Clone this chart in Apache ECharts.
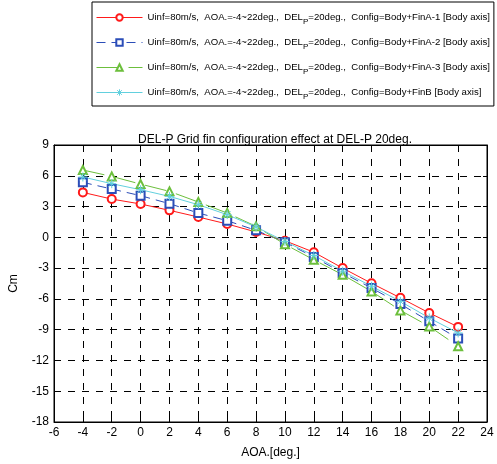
<!DOCTYPE html>
<html>
<head>
<meta charset="utf-8">
<script src="https://cdn.jsdelivr.net/npm/echarts@6/dist/echarts.min.js"></script>
<style>
html,body{margin:0;padding:0;background:#fff;}
#chart{width:497px;height:464px;}
</style>
</head>
<body>
<div id="chart"></div>
<script>
var aoa = [-4, -2, 0, 2, 4, 6, 8, 10, 12, 14, 16, 18, 20, 22];
var finA1 = [4.38, 3.73, 3.25, 2.63, 1.98, 1.30, 0.52, -0.33, -1.45, -3.00, -4.48, -5.90, -7.37, -8.73];
var finA2 = [5.36, 4.71, 4.06, 3.28, 2.37, 1.62, 0.68, -0.48, -1.92, -3.47, -4.94, -6.50, -8.19, -9.87];
var finA3 = [6.56, 5.94, 5.19, 4.48, 3.44, 2.37, 1.07, -0.68, -2.19, -3.65, -5.27, -7.12, -8.68, -10.62];
var finB  = [5.88, 5.23, 4.64, 3.99, 3.18, 2.21, 1.01, -0.40, -1.77, -3.30, -4.77, -6.24, -7.86, -9.32];
var configNames = ['Body+FinA-1', 'Body+FinA-2', 'Body+FinA-3', 'Body+FinB'];
var xTicks = {min: -6, max: 24, interval: 2};
var yTicks = {min: -18, max: 9, interval: 3};
var titleText = 'DEL-P Grid fin configuration effect at DEL-P 20deg.';

var font = 'Arial, "Liberation Sans", sans-serif';
var colors = ['#ff1a1a', '#2b4db8', '#6cbf3c', '#62d0de'];
var symbols = ['emptyCircle', 'emptyRect', 'emptyTriangle',
  'path://M0,-5L0,5M-5,0L5,0M-3.6,-3.6L3.6,3.6M-3.6,3.6L3.6,-3.6'];
var dashes = ['solid', [9, 6], [22, 10], 'solid'];
var seriesData = [finA1, finA2, finA3, finB];

function pairs(arr) { return aoa.map(function (x, i) { return [x, arr[i]]; }); }

var series = seriesData.map(function (d, i) {
  return {
    name: configNames[i],
    type: 'line',
    data: pairs(d),
    symbol: symbols[i],
    symbolSize: i === 3 ? 9 : 8,
    showSymbol: true,
    lineStyle: {color: colors[i], width: 1, type: dashes[i]},
    itemStyle: {color: i === 3 ? 'rgba(0,0,0,0)' : colors[i], borderColor: colors[i], borderWidth: 1},
    emphasis: {disabled: true},
    animation: false,
    z: 3
  };
});

var gridLine = {show: true, lineStyle: {color: '#000', type: [7, 7], width: 1}};

var option = {
  backgroundColor: '#fff',
  animation: false,
  title: {
    text: titleText, left: 270, top: 129, textAlign: 'center',
    textStyle: {fontFamily: font, fontSize: 12, fontWeight: 'normal', color: '#000'}
  },
  legend: {
    orient: 'vertical', left: 92, top: 2,
    padding: [7, 4, 5, 4], itemGap: 8, itemWidth: 46, itemHeight: 8,
    borderColor: '#000', borderWidth: 1,
    data: configNames,
    lineStyle: {width: 1},
    itemStyle: {borderWidth: 1},
    formatter: function (name) {
      return '{a|Uinf=80m/s,  AOA.=-4~22deg.,  DEL}{s|P}{a|=20deg.,  Config=' + name + ' [Body axis]}';
    },
    textStyle: {
      fontFamily: font, fontSize: 9.6, color: '#000',
      rich: {
        a: {fontFamily: font, fontSize: 9.6, color: '#000', lineHeight: 16},
        s: {fontFamily: font, fontSize: 8, color: '#000', padding: [9, 0, 0, 0], lineHeight: 16}
      }
    }
  },
  grid: {left: 53, right: 10, top: 145, bottom: 41, show: true, borderColor: '#000', borderWidth: 1},
  xAxis: [{
    type: 'value', min: xTicks.min, max: xTicks.max, interval: xTicks.interval,
    name: 'AOA.[deg.]', nameLocation: 'middle', nameGap: 25,
    nameTextStyle: {fontFamily: font, fontSize: 12, color: '#000'},
    axisLine: {show: true, onZero: false, lineStyle: {color: '#000', width: 1}},
    axisTick: {show: true, inside: true, length: 4, lineStyle: {color: '#000'}},
    axisLabel: {fontFamily: font, fontSize: 12, color: '#000', margin: 5},
    splitLine: gridLine
  }, {
    type: 'value', position: 'top', min: xTicks.min, max: xTicks.max, interval: xTicks.interval,
    axisLine: {show: true, onZero: false, lineStyle: {color: '#000'}},
    axisTick: {show: true, inside: true, length: 4, lineStyle: {color: '#000'}},
    axisLabel: {show: false}, splitLine: {show: false}
  }],
  yAxis: [{
    type: 'value', min: yTicks.min, max: yTicks.max, interval: yTicks.interval,
    name: 'Cm', nameLocation: 'middle', nameGap: 34,
    nameTextStyle: {fontFamily: font, fontSize: 12, color: '#000'},
    axisLine: {show: true, onZero: false, lineStyle: {color: '#000', width: 1}},
    axisTick: {show: true, inside: true, length: 4, lineStyle: {color: '#000'}},
    axisLabel: {fontFamily: font, fontSize: 12, color: '#000', margin: 5},
    splitLine: gridLine
  }, {
    type: 'value', position: 'right', min: yTicks.min, max: yTicks.max, interval: yTicks.interval,
    axisLine: {show: true, onZero: false, lineStyle: {color: '#000'}},
    axisTick: {show: true, inside: true, length: 4, lineStyle: {color: '#000'}},
    axisLabel: {show: false}, splitLine: {show: false}
  }],
  series: series
};

var chart = echarts.init(document.getElementById('chart'), null, {renderer: 'canvas'});
chart.setOption(option);
</script>
</body>
</html>
